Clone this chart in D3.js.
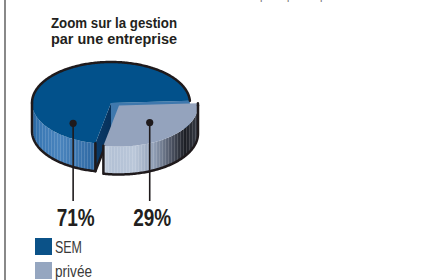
<!DOCTYPE html>
<html lang="fr">
<head>
    <meta charset="UTF-8">
    <title>Zoom sur la gestion</title>
    <script src="https://d3js.org/d3.v7.min.js"></script>
    <style>
        body{ margin:0; background:#fff; }
        .title{ font-family:"Liberation Sans Narrow", "Liberation Sans", sans-serif; font-weight:bold; font-size:14.5px; fill:#231f20; }
        .pct{ font-family:"Liberation Sans Narrow", "Liberation Sans", sans-serif; font-weight:bold; font-size:23px; fill:#231f20; }
        .leg{ font-family:"Liberation Sans Narrow", "Liberation Sans", sans-serif; font-size:16px; fill:#3a3a3a; }
        .outline{ fill:none; stroke:#1f1a1c; stroke-width:2.5; stroke-linejoin:round; stroke-linecap:round; }
    </style>
</head>
<body>
<svg id="main" width="433" height="280" viewBox="0 0 433 280"></svg>
<script>
    // data
    let categories = ['SEM', 'privée'];
    let shares = [71, 29];
    let pctLabels = ['71%', '29%'];
    let titleLines = ['Zoom sur la gestion', 'par une entreprise'];

    let svg = d3.select('svg#main');

    let topColor = {'SEM':'#02518b', 'privée':'#94a3bd'};
    let legColor = {'SEM':'#0b5288', 'privée':'#95a6c0'};
    let geo = {cx:111, cy:103, rx:79, ry:41, depth:28, rot:-3};
    let explode = {'SEM':[0,0], 'privée':[8,2.5]};
    let labelAngle = {'SEM':134, 'privée':47};
    let labelFrac = {'SEM':0.69, 'privée':0.57};
    let legWidth = {'SEM':27, 'privée':37};

    let xs = d3.scaleLinear().domain([-1,1]).range([geo.cx-geo.rx, geo.cx+geo.rx]);
    let ys = d3.scaleLinear().domain([-1,1]).range([geo.cy-geo.ry, geo.cy+geo.ry]);
    let rad = d => d*Math.PI/180;

    function pt(a, off, dy, f){
        f = f===undefined ? 1 : f;
        return [xs(f*Math.cos(rad(a))) + off[0], ys(f*Math.sin(rad(a))) + off[1] + (dy||0)];
    }
    function arcPts(a0, a1, off, dy){
        let n = Math.max(2, Math.ceil(Math.abs(a1-a0)));
        return d3.range(n+1).map(i => pt(a0 + (a1-a0)*i/n, off, dy));
    }
    let line = d3.line();

    // background bits
    svg.append('line').attr('x1',5).attr('x2',5).attr('y1',0).attr('y2',280)
        .attr('stroke','#6b6b6b').attr('stroke-width',1.6);
    svg.append('text').attr('x',260).attr('y',-0.5).attr('class','leg')
        .style('font-size','11px').style('fill','#777').text('publique ou privée');

    // defs
    let defs = svg.append('defs');
    function grad(id, x1, x2, stops){
        let g = defs.append('linearGradient').attr('id',id).attr('gradientUnits','userSpaceOnUse')
            .attr('x1',x1).attr('x2',x2).attr('y1',0).attr('y2',0);
        stops.forEach(s => g.append('stop').attr('offset',s[0]).attr('stop-color',s[1]));
    }
    grad('sideSEM', 30, 97, [[0,'#1f5e98'],[0.15,'#3b79b5'],[0.45,'#4a84bd'],[0.75,'#3a74ae'],[1,'#2c66a0']]);
    grad('sidePriv', 100, 199, [[0,'#cdd7e4'],[0.12,'#b3c1d5'],[0.35,'#bac7d9'],[0.55,'#8f9db4'],[0.72,'#4d5464'],[0.86,'#1c1e24'],[1,'#3b404b']]);
    grad('cutSEM', 92, 112, [[0,'#0b3d6c'],[1,'#06305a']]);
    let pat = defs.append('pattern').attr('id','stripes').attr('patternUnits','userSpaceOnUse')
        .attr('width',3).attr('height',10);
    pat.append('rect').attr('width',1).attr('height',10).attr('fill','#fff').attr('opacity',0.14);

    let sideFill = {'SEM':'url(#sideSEM)', 'privée':'url(#sidePriv)'};

    // draw order: SEM behind, privée in front
    let drawData = [{cat:'privée', v:shares[1]}, {cat:'SEM', v:shares[0]}];
    let pie = d3.pie().sort(null).value(d => d.v)
        .startAngle(rad(90+geo.rot)).endAngle(rad(450+geo.rot));
    let arcs = pie(drawData).map(p => ({
        cat:p.data.cat,
        a0:p.startAngle*180/Math.PI - 90,
        a1:p.endAngle*180/Math.PI - 90
    }));
    let order = ['SEM','privée'].map(c => arcs.find(a => a.cat===c));

    let gPie = svg.append('g');
    order.forEach(s => {
        let off = explode[s.cat];
        let g = gPie.append('g');
        let c = [off[0]+geo.cx, off[1]+geo.cy];
        // outer side
        let sA = Math.max(s.a0, 0), eA = Math.min(s.a1, 180);
        let sidePts = arcPts(sA, eA, off, 0).concat(arcPts(eA, sA, off, geo.depth));
        g.append('path').attr('d', line(sidePts)+'Z').attr('fill', sideFill[s.cat]);
        g.append('path').attr('d', line(sidePts)+'Z').attr('fill', 'url(#stripes)');
        // cut faces
        if (Math.cos(rad(s.a1)) > 0.0001){
            let p = pt(s.a1, off);
            g.append('path').attr('d', line([c, p, [p[0],p[1]+geo.depth], [c[0],c[1]+geo.depth]])+'Z')
                .attr('fill','#3f78ad');
        }
        if (Math.cos(rad(s.a0)) < -0.0001){
            let p = pt(s.a0, off);
            g.append('path').attr('d', line([c, p, [p[0],p[1]+geo.depth], [c[0],c[1]+geo.depth]])+'Z')
                .attr('fill','url(#cutSEM)');
        }
        // top face
        g.append('path').attr('d', line([c].concat(arcPts(s.a0, s.a1, off, 0)))+'Z')
            .attr('fill', topColor[s.cat]);
        // outlines
        let rimS = Math.max(s.a0, 180), rimE = s.a1;
        if (s.a0 < 0){ rimS = s.a0; rimE = 0; }
        g.append('path').attr('class','outline').attr('d', line(arcPts(rimS, rimE, off, 0)));
        let o = [];
        o.push(pt(eA, off, 0));
        o = o.concat(arcPts(eA, sA, off, geo.depth));
        o.push(pt(sA, off, 0));
        g.append('path').attr('class','outline').attr('d', line(o));
        if (Math.cos(rad(s.a0)) < -0.0001){
            g.append('path').attr('class','outline')
                .attr('d', line([pt(s.a0, off, geo.depth), [c[0], c[1]+geo.depth]]));
        }
    });

    // leader lines, dots, labels
    categories.forEach((cat, i) => {
        let off = explode[cat];
        let p = pt(labelAngle[cat], off, 0, labelFrac[cat]);
        svg.append('line').attr('x1',p[0]).attr('x2',p[0]).attr('y1',p[1]).attr('y2',201)
            .attr('stroke','#1f1a1c').attr('stroke-width',1.6);
        svg.append('circle').attr('cx',p[0]).attr('cy',p[1]).attr('r',3.6).attr('fill','#1f1a1c');
        svg.append('text').attr('class','pct').attr('x',p[0]+2.5).attr('y',226)
            .attr('text-anchor','middle').attr('textLength',38).attr('lengthAdjust','spacingAndGlyphs')
            .text(pctLabels[i]);
    });

    // title
    titleLines.forEach((t, i) => {
        svg.append('text').attr('class','title').attr('x',114).attr('y',28+i*15.5)
            .attr('text-anchor','middle').attr('textLength',126).attr('lengthAdjust','spacingAndGlyphs')
            .text(t);
    });

    // legend
    let leg = svg.append('g').selectAll('g').data(categories).join('g')
        .attr('transform', (d,i) => `translate(35,${238+i*24})`);
    leg.append('rect').attr('width',17).attr('height',17).attr('fill', d => legColor[d]);
    leg.append('text').attr('class','leg').attr('x',20).attr('y',15)
        .attr('textLength', d => legWidth[d]).attr('lengthAdjust','spacingAndGlyphs').text(d => d);
</script>
</body>
</html>
